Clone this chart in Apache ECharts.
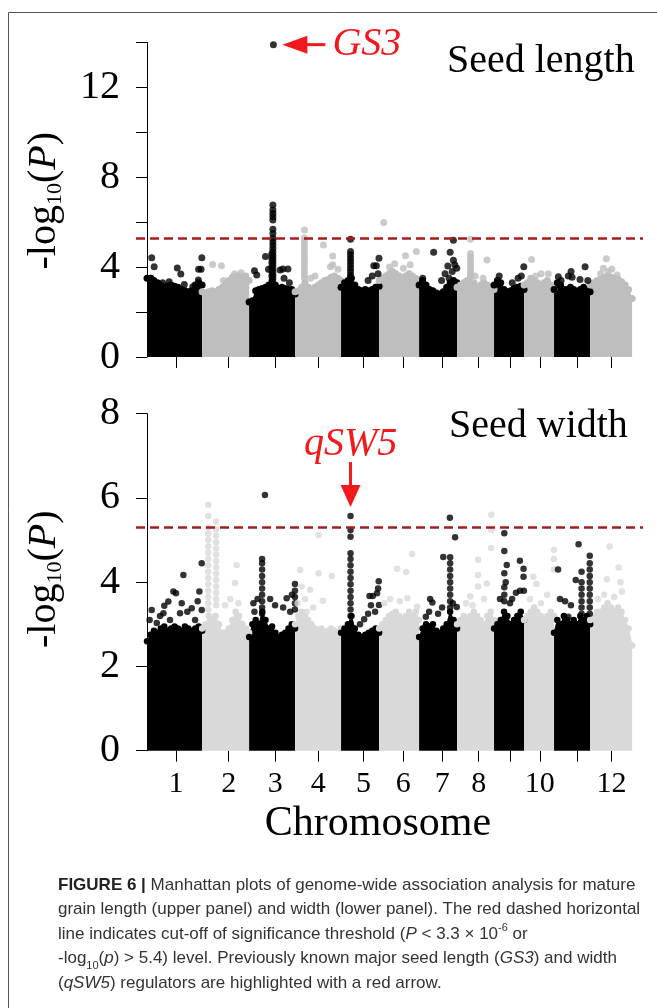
<!DOCTYPE html>
<html><head><meta charset="utf-8">
<script src="https://cdn.jsdelivr.net/npm/echarts@6/dist/echarts.min.js"></script>
<style>html,body{margin:0;padding:0;background:#fff;}#c{width:657px;height:1008px;}</style>
</head><body><div id="c"></div>
<script>
// ---------- data ----------
const chromosomes = ['1','2','3','4','5','6','7','8','9','10','11','12'];
const chrLen = [42.4, 36.2, 35.4, 35.4, 29.3, 30.8, 29.2, 28.5, 23.1, 23.1, 27.8, 32.3];
const xTickPos = [22.3, 62.9, 98.8, 131.9, 166.6, 197.2, 227.4, 255.4, 279.8, 302.4, 331.1, 357.6];
const xTickLabels = ['1','2','3','4','5','6','7','8','','10','','12'];
const lengthYTicks = [0,2,4,6,8,10,12,14];
const lengthYLabels = [0,4,8,12];
const widthYTicks = [0,2,4,6,8];
const widthYLabels = [0,2,4,6,8];
const threshold = 5.3;

// upper edge of the dense SNP cloud, evenly spread along each chromosome
const lengthBase = [
  [3.5,3.5,3.4,3.3,3.2,3.1,3.15,3.2,3.15,3.1,3.0,2.95,2.9,2.95,3.2,3.3,3.2],
  [2.9,2.85,2.9,2.95,2.9,3.0,3.1,3.25,3.4,3.55,3.6,3.6,3.55,3.6,3.4],
  [2.45,2.5,2.95,3.0,3.05,3.1,3.2,3.4,3.2,3.05,3.1,3.05,3.0,3.0,2.8],
  [2.9,2.95,3.1,3.3,3.1,3.0,3.1,3.2,3.3,3.4,3.45,3.55,3.6,3.5,3.4],
  [3.1,3.3,3.4,3.5,3.2,3.0,2.95,3.0,2.95,3.0,3.1,3.15],
  [3.4,3.5,3.6,3.7,3.8,3.7,3.6,3.5,3.6,3.7,3.6,3.5,3.4],
  [3.2,3.4,3.2,3.0,2.95,2.85,2.8,2.9,3.1,3.3,3.4,3.3],
  [3.1,3.2,3.3,3.4,3.6,3.3,3.1,3.2,3.3,3.2,3.1,3.0],
  [3.2,3.4,3.3,3.0,2.9,2.95,3.05,3.1,3.15,3.0],
  [3.2,3.3,3.5,3.4,3.3,3.2,3.3,3.4,3.2,3.0],
  [3.0,3.3,3.2,3.0,3.0,3.1,3.0,2.9,3.0,3.1,3.0,2.9],
  [3.2,3.3,3.4,3.45,3.55,3.6,3.55,3.5,3.45,3.35,3.2,3.0,2.6]
];
// SNPs above the cloud: [position within chromosome, value(s)...]
const lengthPeaks = [
  [[3.6,4.42],[5.5,4.02],[3.1,3.5],[23.3,3.96],[26.0,3.69],[28.7,3.23],[35.2,3.13],[39.5,3.43],[39.7,3.9],[41.6,3.9],[42.2,4.42],[12,3.3],[17,3.35]],
  [[8.1,4.12],[14.9,4.06],[16.4,3.4],[25,3.7],[30,3.75]],
  [[4.1,3.84],[5.9,3.65],[12.6,4.47],[14.9,3.9],[23.9,3.87],[26.0,3.92],[29.9,3.92],[26.9,3.5],[31,3.3],
   [18.3,6.76,6.54,6.39,6.24,6.1,5.68,5.5,5.28,5.13,4.98,4.83,4.68,4.53,4.38,4.23,4.08,3.93,3.78,3.63,3.48],
   [17.5,4.6,4.4,4.2,4.0,3.8,3.6]],
  [[7.2,5.65,5.3,5.15,5.0,4.85,4.7,4.55,4.4,4.25,4.1,3.95,3.8,3.65,3.5],[21.8,4.98],[29.0,4.49,4.1],[15.4,3.6],[27.2,4.02],[12,3.5],[33,3.9]],
  [[7.3,5.24,4.7,4.55,4.4,4.25,4.1,3.95,3.8,3.65,3.55],[27.2,4.06],[29.2,4.39],[25.2,4.06],[20.8,3.4],[24,3.6],[28.5,3.7]],
  [[3.6,5.99],[20.3,4.51],[28.7,4.69],[18.7,3.95],[23.9,4.1],[8,4.0],[12,4.15]],
  [[11.2,4.66],[23.9,4.66],[22.1,4.05],[26.4,5.2,4.3],[29.0,3.95],[20.0,3.7],[23.1,3.5],[17.3,3.4],[2.8,3.5],[27.5,4.1],[25.5,3.8]],
  [[10.4,5.24,4.61,4.45,4.3,4.15,4.0,3.85,3.7],[23.1,4.32],[14,3.6],[20,3.5]],
  [[4.0,3.61],[22.9,4.02],[18.5,3.5],[14,3.3],[21,3.6]],
  [[5.8,4.34],[18.7,3.7],[13.1,3.7],[9,3.6]],
  [[3.3,3.57],[5.4,3.4],[13.1,3.8],[13.9,3.55],[23.9,4.02],[20.0,3.45],[11,3.6],[26,3.4]],
  [[12.5,4.37],[10.2,3.95],[16.7,3.92],[20.8,3.65],[14,3.8],[8,3.7]]
];
const gs3Hit = [3, 18.7, 13.9];   // [chromosome, position, value]

const widthBase = [
  [2.6,2.75,2.85,2.8,2.9,2.95,2.85,2.9,2.95,2.9,2.85,2.95,2.9,2.85,2.9,2.95,2.85],
  [2.9,3.0,3.2,3.1,3.2,3.0,2.8,2.8,2.9,3.1,3.3,3.2,3.0,2.9,2.8],
  [2.7,3.0,3.1,3.0,3.3,3.1,2.9,2.95,2.8,2.7,2.75,2.8,2.9,3.0,2.9],
  [3.0,3.2,3.3,3.2,3.1,3.0,2.9,2.85,2.9,2.8,2.85,2.9,2.85,2.8,2.9],
  [2.8,2.9,3.0,3.2,2.9,2.75,2.7,2.75,2.8,2.85,2.9,2.8],
  [2.9,3.0,3.1,3.2,3.25,3.3,3.2,3.1,3.2,3.3,3.2,3.3,3.1],
  [2.7,2.9,3.0,2.95,3.0,2.85,2.8,2.9,3.0,3.3,3.1,2.9],
  [3.0,3.1,3.2,3.1,3.2,3.3,3.2,3.1,3.0,3.2,3.3,3.1],
  [2.9,3.0,3.1,3.3,3.2,3.0,3.1,3.2,3.3,3.1],
  [3.1,3.2,3.3,3.4,3.3,3.2,3.1,3.2,3.3,3.2],
  [2.8,3.1,3.0,3.2,3.1,3.0,3.1,3.0,3.2,3.1,3.2,3.0],
  [3.1,3.2,3.3,3.3,3.4,3.5,3.4,3.3,3.4,3.3,3.1,2.9,2.5]
];
const widthPeaks = [
  [[3.6,3.34],[12.6,3.26],[13.3,3.44],[16.4,3.54],[20.3,3.78],[22.3,3.74],[28.0,4.17],[40.3,3.78],[42.1,4.45,3.34],[26.7,3.5],[25.4,3.26],[34.4,3.38],[37.0,3.1],[7.5,3.03],[17.7,3.1],[10,3.2],[31,3.3],[2.0,3.1],[39,3.55]],
  [[4.7,5.84,5.57,5.3,5.15,5.0,4.85,4.7,4.55,4.4,4.25,4.1,3.95,3.8,3.65,3.5,3.35],
   [10.8,5.44,5.25,5.1,4.95,4.8,4.65,4.5,4.35,4.2,4.05,3.9,3.75,3.6,3.45],
   [26.6,4.41],[25.3,3.98],[21.6,3.6],[17.7,3.45],[28,3.5]],
  [[10.0,4.55,4.45,4.3,4.15,4.0,3.85,3.7,3.55,3.4,3.25],[12.2,6.07],[3.3,3.5],[4.1,3.3],[6.5,3.6],[28.9,3.62],
   [35.3,3.96,3.8,3.65,3.5,3.35],[31.6,3.3],[20.0,3.45],[16.2,3.6],[26.2,3.4],[33,3.7]],
  [[3.9,4.29],[18.1,5.12,4.21],[28.3,4.15],[21.3,3.56],[11.6,3.82],[7.7,3.6],[5.0,3.9],[13.9,3.4],[9,3.3],[2,3.5]],
  [[7.3,5.24,5.08,4.69,4.55,4.4,4.25,4.1,3.95,3.8,3.65,3.5,3.35,3.2],[29.0,4.02],[27.7,3.74],[24.4,3.67],[21.9,3.67],[17.8,3.12],[29.2,3.46],[26.2,3.3],[20.8,3.25],[14.6,3.0],[28.5,3.85],[23,3.45]],
  [[13.9,4.32],[20.8,4.24],[25.4,4.67],[21.8,3.62],[29.3,3.42],[8.5,3.6],[4,3.5],[16,3.55]],
  [[23.7,5.53],[27.7,5.07],[18.6,4.6],[23.9,4.59,4.45,4.3,4.15,4.0,3.85,3.7,3.55,3.4],[10.2,3.52],[29.0,3.41],[5.2,3.18],[7.7,3.3],[14.6,3.25],[17.7,3.4],[8.5,3.6],[26,3.5]],
  [[26.4,5.6,5.24],[26.2,4.81],[16.2,4.53,4.17,3.9],[22.9,3.97],[10.2,3.66],[6.9,3.5],[20.8,3.6],[12,3.45]],
  [[7.9,5.16,4.74,4.21,3.88,3.7,3.55],[9.8,4.41],[19.9,4.51],[22.7,4.32,4.13],[23.0,3.8],[13.9,3.6],[16.9,3.75],[4.6,3.6],[20.0,3.8],[12.3,3.5],[9,4.0]],
  [[23.0,4.77,4.55,4.3],[7.2,4.13],[9.5,3.96],[17.7,3.7],[4.6,3.6],[13,3.5]],
  [[3.1,4.3],[18.9,4.9],[27.5,4.63,4.45,4.3,4.15,4.0,3.85,3.7,3.55,3.4,3.25],[21.2,4.25,4.0,3.85,3.7,3.55,3.4,3.25],[16.7,4.05],[11.0,3.18],[8.5,3.55],[4.6,3.6],[13,3.45]],
  [[15.0,4.85],[21.9,4.35],[23.3,4.0],[12.9,4.07],[24.4,3.78],[10.8,3.7],[18.5,3.65],[6,3.6]]
];
const qsw5Hit = [5, 7.3, 5.57];   // [chromosome, position, value]

const captionLines = [
  '{b|FIGURE 6 |} Manhattan plots of genome-wide association analysis for mature',
  'grain length (upper panel) and width (lower panel). The red dashed horizontal',
  'line indicates cut-off of significance threshold ({i|P} < 3.3 × 10{sup|-6} or',
  '-log{sub|10}({i|p}) > 5.4) level. Previously known major seed length ({i|GS3}) and width',
  '({i|qSW5}) regulators are highlighted with a red arrow.'
];

// ---------- chart ----------
const SERIF = 'Liberation Serif';
const starts = chrLen.map((_, i) => chrLen.slice(0, i).reduce((a, b) => a + b, 0));
const X_MIN = -8.5, X_MAX = 381.9;

function panel(base, peaks, hit, gi, grey, size) {
  const s = [];
  base.forEach((hs, c) => {
    const col = c % 2 ? grey : '#000';
    const n = hs.length;
    s.push({type:'line', xAxisIndex:gi, yAxisIndex:gi, silent:true, z:2, animation:false,
      data: hs.map((h, j) => [starts[c] + chrLen[c] * j / (n - 1), h]),
      symbol:'circle', symbolSize:size, showSymbol:true,
      lineStyle:{color:col, width:1}, itemStyle:{color:col}, areaStyle:{color:col, opacity:1}});
    const pts = [];
    peaks[c].forEach(e => { for (let k = 1; k < e.length; k++) pts.push([starts[c] + e[0], e[k]]); });
    s.push({type:'scatter', xAxisIndex:gi, yAxisIndex:gi, silent:true, z:3, animation:false,
      data: pts, symbol:'circle', symbolSize:size, itemStyle:{color:col}});
  });
  const hc = hit[0] - 1;
  s.push({type:'scatter', xAxisIndex:gi, yAxisIndex:gi, silent:true, z:4, animation:false,
    data:[[starts[hc] + hit[1], hit[2]]], symbol:'circle', symbolSize:size,
    itemStyle:{color: hc % 2 ? grey : '#000'}});
  s.push({type:'scatter', xAxisIndex:gi, yAxisIndex:gi, silent:true, z:10, animation:false, data:[],
    markLine:{silent:true, animation:false, symbol:['none','none'], label:{show:false},
      lineStyle:{color:'#a51d1d', type:[9,5], width:2.5}, data:[{yAxis: threshold}]}});
  return s;
}

const yName = '{a|-log}{s|10}{a|(}{i|P}{a|)}';
const yNameRich = {
  a:{fontSize:40, fontFamily:SERIF, color:'#000', lineHeight:44},
  s:{fontSize:22, fontFamily:SERIF, color:'#000', lineHeight:20, verticalAlign:'bottom'},
  i:{fontSize:40, fontFamily:SERIF, fontStyle:'italic', color:'#000', lineHeight:44}
};
function yAxis(gi, max, ticks, labels, pad) {
  return {gridIndex:gi, type:'value', min:0, max:max, interval:2,
    axisLine:{show:true, lineStyle:{color:'#000', width:1}},
    axisTick:{show:true, length:11, lineStyle:{color:'#000', width:1}, customValues:ticks},
    axisLabel:{customValues:labels, fontSize:40, fontFamily:SERIF, color:'#000', margin:16},
    splitLine:{show:false},
    name:yName, nameLocation:'middle', nameGap:70,
    nameTextStyle:{rich:yNameRich, padding:pad}};
}
function xAxis(gi, showLabels) {
  const ax = {gridIndex:gi, type:'value', min:X_MIN, max:X_MAX,
    axisLine:{show:false},
    axisTick:{show:true, length:11, lineStyle:{color:'#000', width:1}, customValues:xTickPos},
    axisLabel:{show:false}, splitLine:{show:false}};
  if (showLabels) {
    ax.axisLabel = {show:true, customValues: xTickPos.filter((_, i) => xTickLabels[i] !== ''),
      formatter: v => xTickLabels[xTickPos.indexOf(v)], fontSize:30, fontFamily:SERIF, color:'#000', margin:18};
    ax.name = 'Chromosome'; ax.nameLocation = 'middle'; ax.nameGap = 52;
    ax.nameTextStyle = {fontSize:42, fontFamily:SERIF, color:'#000', padding:[0,23,0,0]};
  }
  return ax;
}

const chart = echarts.init(document.getElementById('c'), null, {renderer:'canvas'});
chart.setOption({
  animation:false,
  backgroundColor:'#fff',
  grid:[
    {left:136, right:14, top:42.4, bottom:651},
    {left:136, right:14, top:413.7, bottom:257.3}
  ],
  xAxis:[xAxis(0,false), xAxis(1,true)],
  yAxis:[yAxis(0,14,lengthYTicks,lengthYLabels,[0,2,0,0]), yAxis(1,8,widthYTicks,widthYLabels,[0,0,0,6])],
  series:[].concat(
    panel(lengthBase, lengthPeaks, gs3Hit, 0, '#bebebe', 7),
    panel(widthBase, widthPeaks, qsw5Hit, 1, '#d9d9d9', 6.5))
});

const gI = gs3Hit[0] - 1, qI = qsw5Hit[0] - 1;
const pG = chart.convertToPixel({xAxisIndex:0, yAxisIndex:0}, [starts[gI] + gs3Hit[1], gs3Hit[2]]);
const pQ = chart.convertToPixel({xAxisIndex:1, yAxisIndex:1}, [starts[qI] + qsw5Hit[1], qsw5Hit[2]]);
const RED = '#f2181c';
const ITALIC = 'italic 40px "Liberation Serif"';
const ROMAN = '40px "Liberation Serif"';
chart.setOption({graphic:[
  {type:'rect', silent:true, shape:{x:8.5, y:12.5, width:700, height:1100}, style:{fill:'none', stroke:'#555', lineWidth:1}},
  // GS3 arrow
  {type:'polygon', silent:true, shape:{points:[[pG[0]+9,pG[1]],[pG[0]+34,pG[1]-9],[pG[0]+34,pG[1]+9]]}, style:{fill:RED}},
  {type:'rect', silent:true, shape:{x:pG[0]+31, y:pG[1]-1.5, width:21, height:3}, style:{fill:RED}},
  {type:'text', silent:true, style:{text:'GS3', x:pG[0]+59, y:pG[1], fill:RED, font:ITALIC, verticalAlign:'middle', align:'left'}},
  // qSW5 arrow
  {type:'polygon', silent:true, shape:{points:[[pQ[0],pQ[1]-9],[pQ[0]-10,pQ[1]-31],[pQ[0]+10,pQ[1]-31]]}, style:{fill:RED}},
  {type:'rect', silent:true, shape:{x:pQ[0]-1.5, y:pQ[1]-54, width:3, height:25}, style:{fill:RED}},
  {type:'text', silent:true, style:{text:'qSW5', x:pQ[0], y:pQ[1]-72, fill:RED, font:ITALIC, verticalAlign:'middle', align:'center'}},
  // panel titles
  {type:'text', silent:true, style:{text:'Seed length', x:447, y:61, fill:'#000', font:ROMAN, verticalAlign:'middle', align:'left'}},
  {type:'text', silent:true, style:{text:'Seed width', x:449, y:426, fill:'#000', font:ROMAN, verticalAlign:'middle', align:'left'}},
  // caption
  {type:'text', silent:true, style:{text:captionLines.join('\n'), x:58, y:873, verticalAlign:'top', align:'left',
    fontSize:17, fontFamily:'Liberation Sans', fill:'#333', lineHeight:24.5,
    rich:{
      b:{fontSize:17, fontFamily:'Liberation Sans', fontWeight:'bold', fill:'#222', lineHeight:24.5},
      i:{fontSize:17, fontFamily:'Liberation Sans', fontStyle:'italic', fill:'#333', lineHeight:24.5},
      sup:{fontSize:11, fontFamily:'Liberation Sans', fill:'#333', lineHeight:14, verticalAlign:'top'},
      sub:{fontSize:11, fontFamily:'Liberation Sans', fill:'#333', lineHeight:14, verticalAlign:'bottom'}
    }}}
]});
</script>
</body></html>
